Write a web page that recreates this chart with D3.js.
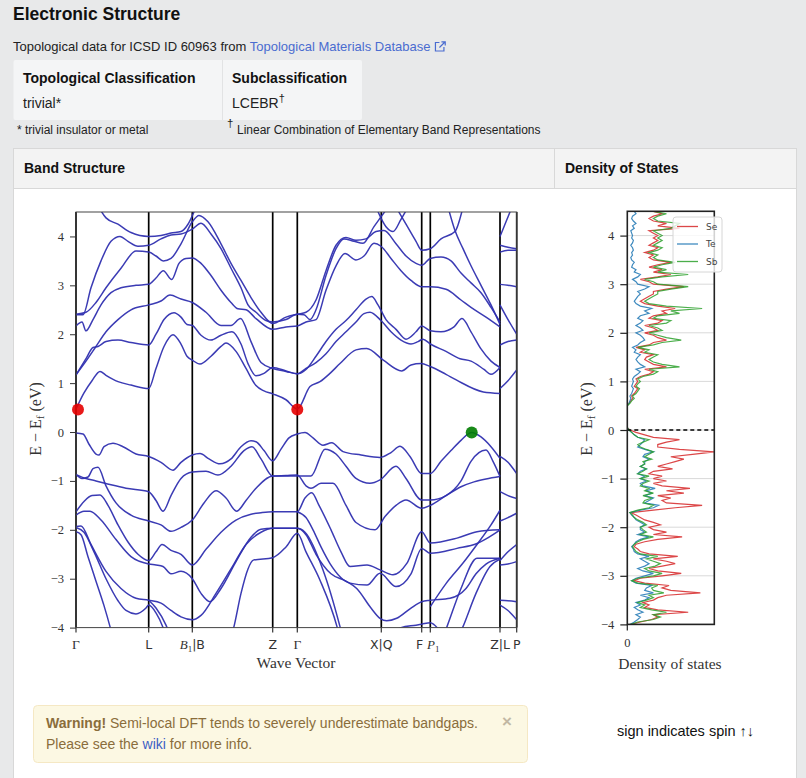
<!DOCTYPE html>
<html><head><meta charset="utf-8">
<script src="https://cdn.jsdelivr.net/npm/d3@7"></script>
<style>
body{margin:0;background:#e8e9ea;}
svg{display:block;}
</style></head><body>
<svg id="c" width="806" height="778"></svg>
<script>
// ---------------- DATA ----------------
const kTicks = [0, 0.727, 1.163, 1.967, 2.213, 3.053, 3.457, 3.543, 4.24, 4.407];
const kLabels = ["Γ", "L", "B₁|B", "Z", "Γ", "X|Q", "F", "P₁", "Z|L", "P"];
const eTicks = [-4, -3, -2, -1, 0, 1, 2, 3, 4];
const eDomain = [-4, 4.5];

const conductionBands = [
  [[0,0.47],[0.08,0.8],[0.16,1.05],[0.24,1.24],[0.3,1.16],[0.42,1.03],[0.55,0.96],[0.727,0.89],[0.8,1.3],[0.88,1.75],[0.97,1.99],[1.05,1.8],[1.11,1.55],[1.163,1.47],[1.24,1.39],[1.35,1.55],[1.45,1.75],[1.5,1.82],[1.6,1.65],[1.7,1.3],[1.8,0.95],[1.88,0.84],[1.967,0.78],[2.1,0.66],[2.213,0.47],[2.34,0.93],[2.44,1.03],[2.54,1.2],[2.64,1.4],[2.8,1.68],[2.907,1.71],[3.073,1.47],[3.257,1.25],[3.35,1.37],[3.45,1.4],[3.543,1.34],[3.7,1.18],[3.807,1.06],[4.073,0.82],[4.24,0.79]],
  [[0,1.17],[0.1,1.5],[0.17,1.73],[0.22,1.75],[0.3,1.85],[0.42,1.88],[0.55,1.83],[0.727,1.78],[0.8,2.0],[0.88,2.3],[0.98,2.44],[1.05,2.35],[1.11,2.2],[1.163,2.18],[1.25,1.98],[1.35,1.88],[1.45,1.98],[1.56,2.05],[1.65,1.8],[1.72,1.4],[1.8,1.15],[1.88,1.2],[1.967,1.32],[2.1,1.25],[2.213,1.19],[2.3,1.3],[2.4,1.42],[2.5,1.6],[2.6,1.85],[2.7,2.05],[2.8,2.25],[2.88,2.42],[2.94,2.45],[3.05,2.28],[3.15,2.05],[3.25,1.88],[3.35,1.8],[3.42,1.85],[3.47,1.9],[3.543,1.8],[3.7,1.65],[3.84,1.5],[3.95,1.45],[4.08,1.28],[4.15,1.18],[4.24,1.32]],
  [[0,1.17],[0.1,1.45],[0.2,1.75],[0.3,2.05],[0.42,2.3],[0.55,2.5],[0.727,2.6],[0.85,2.68],[0.94,2.8],[1.05,2.72],[1.163,2.65],[1.3,2.45],[1.45,2.18],[1.55,2.18],[1.645,2.32],[1.75,1.85],[1.85,1.42],[1.967,1.3],[2.1,1.24],[2.213,1.19],[2.3,1.28],[2.4,1.55],[2.5,1.85],[2.6,2.1],[2.7,2.28],[2.8,2.5],[2.9,2.72],[2.957,2.77],[3.02,2.6],[3.1,2.3],[3.2,2.1],[3.3,1.9],[3.4,2.05],[3.457,2.17],[3.543,2.07],[3.65,2.05],[3.78,2.15],[3.86,2.32],[3.95,2.05],[4.05,1.7],[4.15,1.45],[4.24,1.32]],
  [[0,2.17],[0.06,2.25],[0.1,2.07],[0.17,2.3],[0.25,2.6],[0.35,2.85],[0.45,2.95],[0.6,3.0],[0.727,3.02],[0.8,3.15],[0.873,3.3],[0.957,3.12],[1.03,3.45],[1.1,3.55],[1.163,3.56],[1.25,3.45],[1.35,3.2],[1.45,2.9],[1.55,2.65],[1.62,2.52],[1.7,2.5],[1.8,2.32],[1.967,2.1],[2.1,2.15],[2.213,2.17],[2.3,2.25],[2.4,2.3],[2.5,2.9],[2.6,3.4],[2.69,3.65],[2.8,3.52],[2.88,3.6],[2.98,3.86],[3.05,3.8],[3.15,3.55],[3.25,3.3],[3.35,3.1],[3.457,2.97],[3.543,2.97],[3.7,2.92],[3.85,2.7],[3.95,2.55],[4.1,2.35],[4.24,2.15]],
  [[0,2.4],[0.07,2.4],[0.15,2.95],[0.25,3.5],[0.35,3.9],[0.44,4.0],[0.52,3.9],[0.62,3.8],[0.727,3.82],[0.85,3.95],[0.95,4.03],[1.05,4.05],[1.163,4.15],[1.25,4.27],[1.35,4.05],[1.45,3.75],[1.55,3.35],[1.65,2.95],[1.72,2.6],[1.8,2.45],[1.9,2.28],[1.967,2.25],[2.1,2.3],[2.213,2.41],[2.28,2.4],[2.34,2.3],[2.4,2.5],[2.5,3.2],[2.6,3.75],[2.68,3.95],[2.78,3.9],[2.87,3.86],[2.98,4.2],[3.05,4.4],[3.12,4.6]],
  [[0,2.41],[0.1,2.45],[0.2,2.65],[0.3,2.95],[0.45,3.35],[0.6,3.7],[0.727,3.68],[0.8,3.6],[0.873,3.5],[0.95,3.55],[1.05,3.85],[1.163,4.3],[1.23,4.43],[1.32,4.3],[1.45,3.85],[1.55,3.45],[1.65,3.1],[1.75,2.75],[1.85,2.45],[1.967,2.22],[2.1,2.35],[2.213,2.41],[2.3,2.45],[2.4,2.7],[2.5,3.3],[2.6,3.82],[2.7,3.98],[2.8,3.92],[2.9,3.95],[3.0,4.1],[3.08,4.12],[3.2,3.85],[3.3,3.6],[3.4,3.45],[3.457,3.41],[3.543,3.55],[3.65,3.58],[3.75,3.5],[3.85,3.25],[3.95,3.05],[4.05,2.85],[4.15,2.55],[4.24,2.25]],
  [[0.2,4.7],[0.3,4.38],[0.42,4.25],[0.55,4.08],[0.727,4.0],[0.85,4.02],[0.95,4.07],[1.05,4.1],[1.12,4.25],[1.2,4.6]],
  [[3.2,4.6],[3.3,4.25],[3.4,3.9],[3.457,3.72],[3.543,3.75],[3.65,3.95],[3.79,4.1],[3.87,4.6]],
  [[3.72,4.6],[3.79,4.12],[3.87,3.75],[3.95,3.4],[4.05,3.0],[4.15,2.6],[4.24,2.2]],
  [[3.0,4.6],[3.1,4.2],[3.17,4.1],[3.25,4.35],[3.32,4.6]]
];

const valenceBands = [
  [[0,-0.02],[0.07,-0.04],[0.13,-0.25],[0.2,-0.45],[0.23,-0.47],[0.28,-0.3],[0.37,-0.23],[0.47,-0.3],[0.6,-0.45],[0.727,-0.5],[0.85,-0.62],[0.97,-0.78],[1.05,-0.62],[1.163,-0.47],[1.24,-0.44],[1.33,-0.55],[1.44,-0.65],[1.55,-0.55],[1.65,-0.3],[1.75,-0.18],[1.8,-0.2],[1.88,-0.38],[1.967,-0.59],[2.05,-0.35],[2.13,-0.12],[2.213,-0.04],[2.29,-0.01],[2.37,-0.12],[2.47,-0.27],[2.557,-0.22],[2.67,-0.4],[2.85,-0.47],[3.04,-0.52],[3.15,-0.42],[3.24,-0.29],[3.34,-0.5],[3.457,-0.85],[3.543,-0.85],[3.65,-0.6],[3.75,-0.38],[3.85,-0.17],[3.957,-0.01],[4.05,-0.1],[4.15,-0.3],[4.24,-0.54]],
  [[0,-0.87],[0.1,-0.95],[0.2,-1.0],[0.35,-1.08],[0.5,-1.15],[0.727,-1.22],[0.8,-1.4],[0.87,-1.62],[0.95,-1.3],[1.05,-0.95],[1.163,-0.82],[1.3,-0.8],[1.42,-0.88],[1.55,-0.7],[1.68,-0.38],[1.76,-0.3],[1.85,-0.55],[1.967,-0.9],[2.1,-0.9],[2.213,-0.9],[2.35,-0.9],[2.49,-0.35],[2.6,-0.45],[2.7,-0.7],[2.8,-0.95],[2.94,-1.05],[3.04,-0.98],[3.2,-0.7],[3.3,-0.95],[3.457,-1.39],[3.543,-1.39],[3.7,-1.3],[3.85,-1.0],[3.95,-0.6],[4.1,-0.37],[4.17,-0.6],[4.24,-0.91]],
  [[0,-0.87],[0.06,-0.95],[0.12,-0.92],[0.17,-0.75],[0.22,-0.72],[0.3,-1.1],[0.4,-1.45],[0.55,-1.7],[0.727,-1.82],[0.85,-1.9],[0.95,-2.03],[1.05,-1.95],[1.163,-1.8],[1.28,-1.45],[1.4,-1.2],[1.5,-1.35],[1.607,-1.62],[1.7,-1.4],[1.8,-1.15],[1.967,-0.9],[2.1,-0.89],[2.213,-0.88],[2.3,-1.1],[2.35,-1.15],[2.45,-1.05],[2.57,-1.05],[2.7,-1.5],[2.8,-1.85],[2.99,-2.0],[3.09,-1.73],[3.2,-1.5],[3.3,-1.39],[3.457,-1.56],[3.543,-1.5],[3.7,-1.3],[3.85,-1.12],[3.98,-1.02],[4.1,-0.96],[4.24,-0.91]],
  [[0,-1.63],[0.08,-1.42],[0.16,-1.3],[0.24,-1.29],[0.32,-1.5],[0.42,-1.9],[0.52,-2.25],[0.62,-2.5],[0.727,-2.63],[0.8,-2.45],[0.86,-2.3],[0.95,-2.42],[1.05,-2.5],[1.163,-2.72],[1.3,-2.4],[1.45,-2.05],[1.6,-1.8],[1.75,-1.68],[1.85,-1.65],[1.967,-1.63],[2.1,-1.63],[2.213,-1.63],[2.29,-1.35],[2.357,-1.24],[2.43,-1.5],[2.55,-2.0],[2.65,-2.45],[2.74,-2.75],[2.91,-2.72],[3.04,-2.82],[3.17,-2.92],[3.31,-2.68],[3.457,-2.04],[3.543,-2.27],[3.81,-2.17],[4.01,-2.04],[4.24,-2.0]],
  [[2.213,-1.63],[2.3,-1.75],[2.37,-2.0],[2.45,-2.35],[2.54,-2.69],[2.74,-3.09],[2.91,-3.13],[3.04,-2.89],[3.2,-3.16],[3.35,-2.9],[3.457,-2.38],[3.543,-2.48],[3.81,-2.38],[4.01,-2.28],[4.17,-2.1],[4.24,-2.0]],
  [[0,-1.7],[0.08,-1.62],[0.14,-1.62],[0.25,-1.8],[0.4,-2.2],[0.55,-2.55],[0.727,-2.7],[0.8,-2.72],[0.87,-2.75],[0.95,-2.9],[1.05,-2.85],[1.163,-3.0],[1.25,-3.3],[1.34,-3.47],[1.45,-3.2],[1.6,-2.65],[1.75,-2.15],[1.85,-1.99],[1.967,-1.97],[2.1,-1.97],[2.213,-1.97],[2.3,-2.1],[2.4,-2.5],[2.55,-2.9],[2.7,-3.05],[2.807,-3.2],[2.95,-3.6],[3.04,-3.81],[3.107,-3.86],[3.207,-3.81],[3.35,-3.6],[3.457,-3.47],[3.543,-3.44],[3.74,-3.4],[3.9,-3.2],[4.0,-2.9],[4.1,-2.7],[4.24,-2.58]],
  [[0,-1.93],[0.05,-1.92],[0.15,-2.3],[0.3,-2.85],[0.45,-3.2],[0.6,-3.4],[0.727,-3.44],[0.85,-3.5],[0.95,-3.65],[1.05,-3.78],[1.163,-3.84],[1.25,-3.75],[1.4,-3.3],[1.55,-2.8],[1.7,-2.3],[1.85,-2.05],[1.967,-1.97],[2.1,-1.97],[2.213,-1.97],[2.29,-2.05],[2.47,-2.82],[2.64,-3.98],[2.68,-4.3]],
  [[1.5,-4.5],[1.577,-4.0],[1.65,-3.3],[1.72,-2.8],[1.773,-2.62],[1.967,-2.57],[2.1,-2.35],[2.213,-2.07],[2.3,-2.45],[2.44,-3.03],[2.61,-3.98],[2.65,-4.3]],
  [[0,-2.04],[0.05,-2.1],[0.12,-2.55],[0.2,-3.05],[0.28,-3.55],[0.34,-3.98],[0.38,-4.3]],
  [[0,-1.95],[0.08,-2.05],[0.18,-2.45],[0.3,-3.0],[0.42,-3.45],[0.5,-3.65],[0.6,-3.72],[0.7,-3.6],[0.727,-3.54],[0.8,-3.7],[0.88,-4.05],[0.92,-4.3]],
  [[0.727,-3.44],[0.8,-3.6],[0.9,-3.95],[0.95,-4.2]],
  [[3.543,-3.57],[3.7,-3.1],[3.87,-2.68],[4.01,-2.3],[4.15,-1.9],[4.24,-1.6]],
  [[3.65,-4.3],[3.71,-3.98],[3.85,-3.2],[4.01,-2.58],[4.1,-2.58],[4.24,-2.58]],
  [[3.8,-4.3],[3.87,-3.98],[4.0,-3.3],[4.14,-2.75],[4.24,-2.6]],
  [[3.1,-4.2],[3.25,-4.0],[3.4,-3.95],[3.457,-3.93],[3.543,-3.9],[3.65,-4.1]]
];

// L -> P segment (after the Z|L discontinuity)
const lpBands = [
  [[4.24,0.89],[4.32,1.05],[4.407,1.27]],
  [[4.24,1.78],[4.32,1.85],[4.407,1.88]],
  [[4.24,2.6],[4.32,2.3],[4.407,2.0]],
  [[4.24,3.02],[4.32,3.0],[4.407,2.97]],
  [[4.24,3.68],[4.32,3.72],[4.407,3.72]],
  [[4.24,3.82],[4.32,3.78],[4.407,3.75]],
  [[4.24,4.0],[4.3,4.3],[4.36,4.6]],
  [[4.24,-0.5],[4.32,-0.62],[4.407,-0.85]],
  [[4.24,-1.22],[4.32,-1.3],[4.407,-1.36]],
  [[4.24,-1.82],[4.32,-1.75],[4.407,-1.66]],
  [[4.24,-2.63],[4.32,-2.45],[4.407,-2.3]],
  [[4.24,-2.72],[4.32,-2.7],[4.407,-2.65]],
  [[4.24,-3.44],[4.32,-3.45],[4.407,-3.47]],
  [[4.24,-3.54],[4.32,-3.65],[4.407,-3.84]]
];

const cbmPoints = [[0.02, 0.46], [2.213, 0.46]];
const vbmPoints = [[3.957, -0.01]];

const dosEnergy = [
 -4.00,-3.95,-3.90,-3.85,-3.80,-3.75,-3.70,-3.65,-3.60,-3.55,-3.50,-3.45,-3.40,-3.35,-3.30,-3.25,-3.20,-3.15,-3.10,-3.05,
 -3.00,-2.95,-2.90,-2.85,-2.80,-2.75,-2.70,-2.65,-2.60,-2.55,-2.50,-2.45,-2.40,-2.35,-2.30,-2.25,-2.20,-2.15,-2.10,-2.05,
 -2.00,-1.95,-1.90,-1.85,-1.80,-1.75,-1.70,-1.65,-1.60,-1.55,-1.50,-1.45,-1.40,-1.35,-1.30,-1.25,-1.20,-1.15,-1.10,-1.05,
 -1.00,-0.95,-0.90,-0.85,-0.80,-0.75,-0.70,-0.65,-0.60,-0.55,-0.50,-0.45,-0.40,-0.35,-0.30,-0.25,-0.20,-0.15,-0.10,-0.05,
 0.00,0.05,0.10,0.15,0.20,0.25,0.30,0.35,0.40,0.45,0.50,0.55,0.60,0.65,0.70,0.75,0.80,0.85,0.90,0.95,
 1.00,1.05,1.10,1.15,1.20,1.25,1.30,1.35,1.40,1.45,1.50,1.55,1.60,1.65,1.70,1.75,1.80,1.85,1.90,1.95,
 2.00,2.05,2.10,2.15,2.20,2.25,2.30,2.35,2.40,2.45,2.50,2.55,2.60,2.65,2.70,2.75,2.80,2.85,2.90,2.95,
 3.00,3.05,3.10,3.15,3.20,3.25,3.30,3.35,3.40,3.45,3.50,3.55,3.60,3.65,3.70,3.75,3.80,3.85,3.90,3.95,
 4.00,4.05,4.10,4.15,4.20,4.25,4.30,4.35,4.40,4.45,4.50];

const dosSe = [
 0.04,0.15,0.28,0.35,0.3,0.7,0.35,0.2,0.25,0.18,0.3,0.35,0.45,0.84,0.5,0.4,0.48,0.2,0.08,0.15,
 0.4,0.62,0.35,0.25,0.4,0.55,0.45,0.3,0.58,0.25,0.15,0.12,0.08,0.1,0.2,0.35,0.63,0.3,0.45,0.3,
 0.25,0.38,0.3,0.2,0.15,0.1,0.04,0.3,0.55,0.86,0.45,0.4,0.5,0.35,0.65,0.45,0.72,0.4,0.3,0.45,
 0.3,0.4,0.25,0.3,0.52,0.35,0.45,0.55,0.65,0.5,0.75,1.0,0.6,0.35,0.35,0.45,0.6,0.3,0.2,0.1,
 0.03,0,0,0,0,0,0,0,0,0,0,0.02,0.04,0.06,0.05,0.08,0.1,0.12,0.08,0.1,
 0.12,0.1,0.15,0.25,0.3,0.2,0.45,0.3,0.25,0.2,0.22,0.3,0.15,0.2,0.1,0.25,0.3,0.45,0.35,0.3,
 0.2,0.35,0.3,0.2,0.35,0.4,0.25,0.3,0.45,0.4,0.55,0.35,0.2,0.15,0.2,0.25,0.3,0.3,0.45,0.65,
 0.3,0.25,0.15,0.35,0.5,0.3,0.4,0.25,0.35,0.5,0.3,0.25,0.3,0.2,0.3,0.35,0.25,0.3,0.35,0.3,
 0.35,0.3,0.25,0.6,0.35,0.45,0.3,0.25,0.3,0.4,0.3];

const dosTe = [
 0.03,0.08,0.12,0.15,0.1,0.18,0.12,0.08,0.15,0.1,0.2,0.25,0.15,0.3,0.2,0.22,0.28,0.1,0.05,0.1,
 0.2,0.3,0.18,0.12,0.2,0.25,0.2,0.15,0.25,0.12,0.08,0.07,0.05,0.08,0.1,0.15,0.25,0.12,0.2,0.15,
 0.15,0.2,0.15,0.1,0.08,0.05,0.03,0.15,0.3,0.36,0.2,0.25,0.3,0.2,0.28,0.22,0.32,0.18,0.15,0.22,
 0.15,0.2,0.12,0.15,0.22,0.15,0.2,0.2,0.25,0.18,0.2,0.3,0.2,0.12,0.15,0.18,0.2,0.12,0.08,0.05,
 0.02,0,0,0,0,0,0,0,0,0,0,0.02,0.03,0.04,0.03,0.05,0.06,0.07,0.05,0.06,
 0.07,0.06,0.08,0.12,0.15,0.1,0.2,0.15,0.12,0.1,0.12,0.15,0.08,0.1,0.06,0.12,0.15,0.2,0.18,0.15,
 0.1,0.18,0.15,0.1,0.15,0.18,0.12,0.15,0.25,0.2,0.28,0.15,0.1,0.08,0.1,0.12,0.15,0.12,0.2,0.25,
 0.12,0.1,0.06,0.12,0.15,0.08,0.1,0.05,0.06,0.08,0.05,0.04,0.06,0.05,0.07,0.06,0.04,0.06,0.07,0.05,
 0.06,0.05,0.04,0.08,0.06,0.1,0.07,0.05,0.06,0.1,0.08];

const dosSb = [
 0.04,0.12,0.3,0.38,0.3,0.45,0.28,0.15,0.2,0.12,0.22,0.3,0.25,0.42,0.3,0.28,0.35,0.12,0.05,0.12,
 0.3,0.4,0.25,0.2,0.32,0.38,0.3,0.22,0.35,0.15,0.1,0.08,0.06,0.08,0.12,0.18,0.3,0.15,0.22,0.18,
 0.15,0.22,0.18,0.12,0.08,0.06,0.03,0.12,0.25,0.3,0.18,0.2,0.28,0.18,0.3,0.2,0.25,0.15,0.18,0.25,
 0.15,0.25,0.12,0.18,0.22,0.15,0.2,0.18,0.28,0.2,0.25,0.3,0.22,0.15,0.12,0.18,0.25,0.12,0.08,0.05,
 0.02,0,0,0,0,0,0,0,0,0,0,0.03,0.05,0.08,0.06,0.1,0.12,0.14,0.1,0.12,
 0.15,0.12,0.18,0.3,0.35,0.25,0.6,0.4,0.3,0.25,0.3,0.35,0.2,0.25,0.12,0.3,0.4,0.62,0.45,0.35,
 0.25,0.4,0.35,0.25,0.45,0.5,0.3,0.35,0.6,0.5,0.86,0.45,0.25,0.2,0.25,0.3,0.35,0.35,0.5,0.7,
 0.35,0.3,0.2,0.4,0.7,0.35,0.45,0.3,0.4,0.55,0.35,0.3,0.35,0.25,0.35,0.4,0.3,0.35,0.4,0.35,
 0.4,0.35,0.3,0.5,0.55,0.6,0.35,0.3,0.35,0.45,0.3];

const dosSeries = [
  {name: "Se", values: dosSe, color: "#d62728"},
  {name: "Te", values: dosTe, color: "#1f77b4"},
  {name: "Sb", values: dosSb, color: "#2ca02c"}
];

// ---------------- DRAWING ----------------
const SANS = "'Liberation Sans', Arial, Helvetica, sans-serif";
const SERIF = "'Liberation Serif', 'DejaVu Serif', serif";
const DJ = "'DejaVu Sans', sans-serif";
const svg = d3.select("#c");

svg.append("rect").attr("width", 806).attr("height", 778).attr("fill", "#e8e9ea");

// Header
svg.append("text").attr("x", 13).attr("y", 20).attr("font-family", SANS)
  .attr("font-size", 17.5).attr("font-weight", "bold").attr("fill", "#111").text("Electronic Structure");
const sub = svg.append("text").attr("x", 13).attr("y", 51).attr("font-family", SANS)
  .attr("font-size", 13).attr("fill", "#222");
sub.append("tspan").text("Topological data for ICSD ID 60963 from ");
sub.append("tspan").attr("fill", "#4a6cd0").text("Topological Materials Database");
const subEnd = 13 + sub.node().getComputedTextLength();
const ic = svg.append("g").attr("transform", `translate(${subEnd + 4},41)`)
  .attr("fill", "none").attr("stroke", "#4a6cd0").attr("stroke-width", 1.2);
ic.append("path").attr("d", "M5,1.5 H1 V10 H9.5 V6");
ic.append("path").attr("d", "M5,6.5 L10.5,1 M7,0.8 H10.8 V4.6");

// classification table
svg.append("rect").attr("x", 13.5).attr("y", 60).attr("width", 348.5).attr("height", 60).attr("rx", 2).attr("fill", "#f4f5f6");
svg.append("line").attr("x1", 222.5).attr("x2", 222.5).attr("y1", 60).attr("y2", 120).attr("stroke", "#e2e3e4");
svg.append("text").attr("x", 23).attr("y", 83).attr("font-family", SANS).attr("font-size", 14)
  .attr("font-weight", "bold").attr("fill", "#111").text("Topological Classification");
svg.append("text").attr("x", 232).attr("y", 83).attr("font-family", SANS).attr("font-size", 14)
  .attr("font-weight", "bold").attr("fill", "#111").text("Subclassification");
svg.append("text").attr("x", 23).attr("y", 108).attr("font-family", SANS).attr("font-size", 14)
  .attr("fill", "#222").text("trivial*");
const lc = svg.append("text").attr("x", 232).attr("y", 108).attr("font-family", SANS).attr("font-size", 14).attr("fill", "#222");
lc.append("tspan").text("LCEBR");
lc.append("tspan").attr("dy", -6).attr("font-size", 11).text("†");
svg.append("text").attr("x", 17).attr("y", 134).attr("font-family", SANS).attr("font-size", 12)
  .attr("fill", "#222").text("* trivial insulator or metal");
svg.append("text").attr("x", 227).attr("y", 127).attr("font-family", SANS).attr("font-size", 11.5)
  .attr("fill", "#222").text("†");
svg.append("text").attr("x", 237).attr("y", 134).attr("font-family", SANS).attr("font-size", 12)
  .attr("fill", "#222").text("Linear Combination of Elementary Band Representations");

// card
svg.append("rect").attr("x", 13.5).attr("y", 148.5).attr("width", 783).attr("height", 650)
  .attr("fill", "#fff").attr("stroke", "#d8d8d8");
svg.append("rect").attr("x", 13.5).attr("y", 148.5).attr("width", 783).attr("height", 40)
  .attr("fill", "#f3f3f3").attr("stroke", "#d8d8d8");
svg.append("line").attr("x1", 554.5).attr("x2", 554.5).attr("y1", 148.5).attr("y2", 188.5).attr("stroke", "#d8d8d8");
svg.append("text").attr("x", 24).attr("y", 173).attr("font-family", SANS).attr("font-size", 14)
  .attr("font-weight", "bold").attr("fill", "#111").text("Band Structure");
svg.append("text").attr("x", 565).attr("y", 173).attr("font-family", SANS).attr("font-size", 14)
  .attr("font-weight", "bold").attr("fill", "#111").text("Density of States");

// ---- Band structure plot ----
const x = d3.scaleLinear().domain([0, 4.407]).range([76, 516.7]);
const y = d3.scaleLinear().domain(eDomain).range([627.6, 212]);
const bandG = svg.append("g");
svg.append("clipPath").attr("id", "bclip").append("rect")
  .attr("x", x(0)).attr("y", y(eDomain[1])).attr("width", x(4.407) - x(0)).attr("height", y(eDomain[0]) - y(eDomain[1]));

// vertical symmetry lines
bandG.selectAll("line.k").data(kTicks).join("line")
  .attr("x1", d => x(d)).attr("x2", d => x(d)).attr("y1", y(eDomain[1])).attr("y2", y(eDomain[0]))
  .attr("stroke", "#000").attr("stroke-width", 1.7);

const line = d3.line().x(d => x(d[0])).y(d => y(d[1])).curve(d3.curveMonotoneX);
const bl = bandG.append("g").attr("clip-path", "url(#bclip)");
bl.selectAll("path").data([...conductionBands, ...valenceBands, ...lpBands]).join("path")
  .attr("d", line).attr("fill", "none").attr("stroke", "#3030b0").attr("stroke-opacity", 0.95)
  .attr("stroke-width", 1.5);

// frame
bandG.append("rect").attr("x", x(0)).attr("y", y(eDomain[1])).attr("width", x(4.407) - x(0))
  .attr("height", y(eDomain[0]) - y(eDomain[1])).attr("fill", "none").attr("stroke", "#444").attr("stroke-width", 1);

// markers
bandG.selectAll("circle.cbm").data(cbmPoints).join("circle")
  .attr("cx", d => x(d[0])).attr("cy", d => y(d[1])).attr("r", 6).attr("fill", "#e50000").attr("fill-opacity", 0.9);
bandG.selectAll("circle.vbm").data(vbmPoints).join("circle")
  .attr("cx", d => x(d[0])).attr("cy", d => y(d[1])).attr("r", 6).attr("fill", "#007d00").attr("fill-opacity", 0.9);

const fmt = d => d < 0 ? "−" + Math.abs(d) : String(d);
const yAx = svg.append("g").attr("transform", `translate(${x(0)},0)`)
  .call(d3.axisLeft(y).tickValues(eTicks).tickSize(6).tickPadding(6).tickFormat(fmt));
yAx.select(".domain").remove();
yAx.selectAll("line").attr("stroke", "#333");
yAx.selectAll("text").attr("font-family", SERIF).attr("font-size", 12.5).attr("fill", "#333");

// x ticks
const xAx = svg.append("g").attr("transform", `translate(0,${y(eDomain[0])})`);
xAx.selectAll("line").data(kTicks).join("line").attr("x1", d => x(d)).attr("x2", d => x(d))
  .attr("y1", 0).attr("y2", 5).attr("stroke", "#333").attr("stroke-width", 1.2);
const labelNudge = {6: -2, 7: 3};
kTicks.forEach((k, i) => {
  const lab = kLabels[i];
  const t = xAx.append("text").attr("x", x(k) + (labelNudge[i] || 0)).attr("y", 21)
    .attr("text-anchor", "middle").attr("fill", "#333").attr("font-size", 12.5);
  if (lab === "Γ") {
    t.attr("font-family", SERIF).attr("font-size", 13.5).text("Γ");
  } else if (lab === "B₁|B") {
    t.append("tspan").attr("font-family", SERIF).attr("font-style", "italic").attr("font-size", 13).text("B");
    t.append("tspan").attr("font-family", SERIF).attr("font-size", 9).attr("dy", 3).text("1");
    t.append("tspan").attr("font-family", DJ).attr("dy", -3).text("|B");
  } else if (lab === "P₁") {
    t.append("tspan").attr("font-family", SERIF).attr("font-style", "italic").attr("font-size", 13).text("P");
    t.append("tspan").attr("font-family", SERIF).attr("font-size", 9).attr("dy", 3).text("1");
  } else {
    t.attr("font-family", DJ).text(lab);
  }
});
svg.append("text").attr("x", 296).attr("y", 668).attr("text-anchor", "middle").attr("font-family", SERIF)
  .attr("font-size", 15.5).attr("fill", "#333").text("Wave Vector");

function yLabel(cx) {
  const t = svg.append("text").attr("transform", `translate(${cx},419) rotate(-90)`)
    .attr("text-anchor", "middle").attr("font-family", SERIF).attr("font-size", 16).attr("fill", "#333");
  t.append("tspan").text("E − E");
  t.append("tspan").attr("font-size", 11).attr("dy", 3).text("f");
  t.append("tspan").attr("dy", -3).text(" (eV)");
}
yLabel(41);

// ---- DOS plot ----
const xd = d3.scaleLinear().domain([0, 1]).range([627.3, 714.3]);
const yd = d3.scaleLinear().domain(eDomain).range([624.4, 211.3]);
const dosG = svg.append("g");
dosG.selectAll("line.grid").data(eTicks).join("line")
  .attr("x1", xd(0)).attr("x2", xd(1)).attr("y1", d => yd(d)).attr("y2", d => yd(d))
  .attr("stroke", "#d9d9d9").attr("stroke-width", 1);
svg.append("clipPath").attr("id", "dclip").append("rect")
  .attr("x", xd(0)).attr("y", yd(eDomain[1])).attr("width", xd(1) - xd(0)).attr("height", yd(eDomain[0]) - yd(eDomain[1]));
const dline = vals => d3.line().x((d, i) => xd(vals[i])).y((d, i) => yd(dosEnergy[i]))(dosEnergy);
dosG.append("g").attr("clip-path", "url(#dclip)").selectAll("path").data(dosSeries).join("path")
  .attr("d", d => dline(d.values)).attr("fill", "none").attr("stroke", d => d.color)
  .attr("stroke-width", 1.2).attr("stroke-opacity", 0.85);
dosG.append("line").attr("x1", xd(0)).attr("x2", xd(1)).attr("y1", yd(0)).attr("y2", yd(0))
  .attr("stroke", "#000").attr("stroke-width", 1.3).attr("stroke-dasharray", "4,3");
dosG.append("rect").attr("x", xd(0)).attr("y", yd(eDomain[1])).attr("width", xd(1) - xd(0))
  .attr("height", yd(eDomain[0]) - yd(eDomain[1])).attr("fill", "none").attr("stroke", "#222").attr("stroke-width", 1.6);

// legend
const lg = dosG.append("g").attr("transform", "translate(673,217)");
lg.append("rect").attr("width", 49).attr("height", 55).attr("rx", 3).attr("fill", "#fff")
  .attr("fill-opacity", 0.8).attr("stroke", "#d6d6d6");
dosSeries.forEach((s, i) => {
  const yy = 9.5 + i * 17.5;
  lg.append("line").attr("x1", 4).attr("x2", 25).attr("y1", yy).attr("y2", yy)
    .attr("stroke", s.color).attr("stroke-width", 1.3).attr("stroke-opacity", 0.85);
  lg.append("text").attr("x", 33).attr("y", yy + 3.2).attr("font-family", DJ).attr("font-size", 9)
    .attr("fill", "#444").text(s.name);
});

const ydAx = svg.append("g").attr("transform", `translate(${xd(0)},0)`)
  .call(d3.axisLeft(yd).tickValues(eTicks).tickSize(7).tickPadding(6).tickFormat(fmt));
ydAx.select(".domain").remove();
ydAx.selectAll("line").attr("stroke", "#222").attr("stroke-width", 1.2);
ydAx.selectAll("text").attr("font-family", SERIF).attr("font-size", 12.5).attr("fill", "#333");
svg.append("line").attr("x1", xd(0)).attr("x2", xd(0)).attr("y1", yd(eDomain[0])).attr("y2", yd(eDomain[0]) + 6)
  .attr("stroke", "#222").attr("stroke-width", 1.2);
svg.append("text").attr("x", xd(0)).attr("y", 647).attr("text-anchor", "middle").attr("font-family", SERIF)
  .attr("font-size", 12.5).attr("fill", "#333").text("0");
svg.append("text").attr("x", 670).attr("y", 669).attr("text-anchor", "middle").attr("font-family", SERIF)
  .attr("font-size", 15.5).attr("fill", "#333").text("Density of states");
yLabel(592);

// ---- warning + note ----
svg.append("rect").attr("x", 33.5).attr("y", 705.5).attr("width", 494).attr("height", 57).attr("rx", 4)
  .attr("fill", "#fcf8e3").attr("stroke", "#f5e8c4");
const w1 = svg.append("text").attr("x", 46).attr("y", 728).attr("font-family", SANS).attr("font-size", 14).attr("fill", "#8a6d3b");
w1.append("tspan").attr("font-weight", "bold").text("Warning!");
w1.append("tspan").text(" Semi-local DFT tends to severely underestimate bandgaps.");
const w2 = svg.append("text").attr("x", 46).attr("y", 749).attr("font-family", SANS).attr("font-size", 14).attr("fill", "#8a6d3b");
w2.append("tspan").text("Please see the ");
w2.append("tspan").attr("fill", "#3d5fc4").text("wiki");
w2.append("tspan").text(" for more info.");
svg.append("text").attr("x", 507).attr("y", 727).attr("text-anchor", "middle").attr("font-family", SANS)
  .attr("font-size", 17).attr("font-weight", "bold").attr("fill", "#c2b8a3").text("×");
svg.append("text").attr("x", 617).attr("y", 736).attr("font-family", SANS).attr("font-size", 14.5)
  .attr("fill", "#111").text("sign indicates spin ↑↓");
</script>
</body></html>
